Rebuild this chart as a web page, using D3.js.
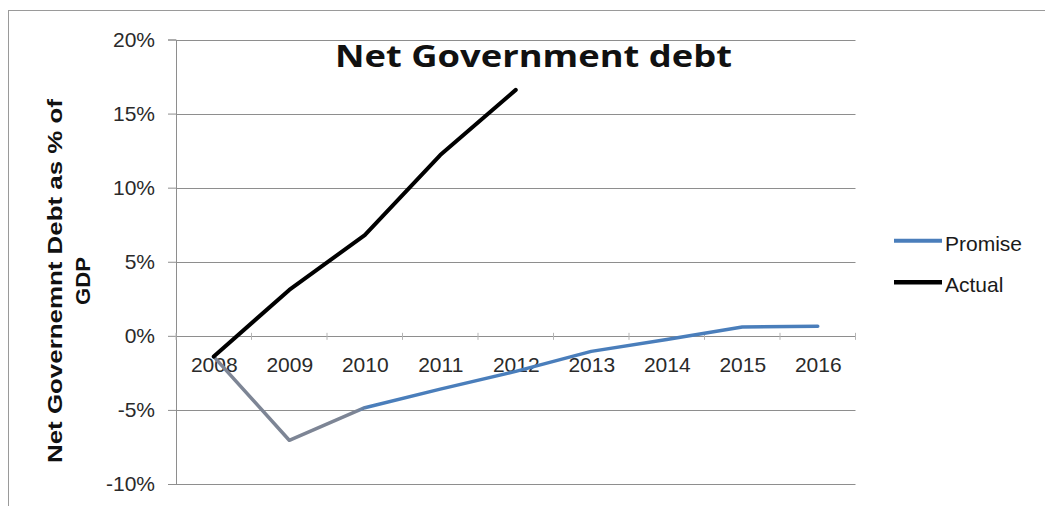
<!DOCTYPE html>
<html>
<head>
<meta charset="utf-8">
<script src="https://cdn.jsdelivr.net/npm/d3@7"></script>
<style>
  html, body { margin: 0; padding: 0; background: #fff; }
  svg { display: block; }
</style>
</head>
<body>
<svg id="chart" width="1045" height="506"></svg>
<script>
// ---- data ----
const years = ["2008", "2009", "2010", "2011", "2012", "2013", "2014", "2015", "2016"];
const promise = [-1.4, -7.05, -4.85, -3.6, -2.4, -1.05, -0.25, 0.6, 0.65];
const actual = [-1.4, 3.1, 6.8, 12.2, 16.6, null, null, null, null];
const yTicks = [-10, -5, 0, 5, 10, 15, 20];
const seriesNames = ["Promise", "Actual"];
const titleText = "Net Government debt";
const yLabelLines = ["Net Governemnt Debt as % of", "GDP"];

(function () {
// ---- layout ----
const svg = d3.select("#chart");
const plotL = 176, plotR = 855.5, plotT = 39.5, plotB = 484;
const gridColor = "#8e8e8e";
const blue = "#4a7ebb";
const grayBlue = "#7d8595";

const x = d3.scalePoint().domain(years).range([plotL, plotR]).padding(0.5);
const y = d3.scaleLinear().domain([-10, 20]).range([plotB, plotT]);

// outer border
svg.append("rect")
  .attr("x", 8.5).attr("y", 10.5)
  .attr("width", 1040).attr("height", 510)
  .attr("fill", "none").attr("stroke", "#9a9a9a").attr("stroke-width", 1);

// gridlines
svg.append("g").selectAll("line").data(yTicks).join("line")
  .attr("x1", plotL).attr("x2", plotR)
  .attr("y1", d => Math.round(y(d)) + 0.5).attr("y2", d => Math.round(y(d)) + 0.5)
  .attr("stroke", gridColor).attr("stroke-width", 1);

// y axis
const yAxis = svg.append("g")
  .attr("transform", `translate(${plotL},0)`)
  .call(d3.axisLeft(y).tickValues(yTicks).tickSize(8).tickPadding(13).tickFormat(d => d + "%"));
yAxis.select(".domain").attr("stroke", gridColor);
yAxis.selectAll(".tick line").attr("stroke", gridColor);
yAxis.selectAll(".tick text")
  .attr("font-family", "'Liberation Sans', Arial, sans-serif")
  .attr("font-size", 21).attr("fill", "#2a2a2a");

// x axis at 0
const y0 = y(0);
const xAxis = svg.append("g")
  .attr("transform", `translate(0,${y0})`)
  .call(d3.axisBottom(x).tickSize(0).tickPadding(21));
xAxis.select(".domain").remove();
xAxis.selectAll(".tick text")
  .attr("font-family", "'Liberation Sans', Arial, sans-serif")
  .attr("font-size", 21).attr("fill", "#2a2a2a");

// small category-boundary ticks on the x axis
const step = x.step();
const bounds = d3.range(years.length + 1).map(i => x(years[0]) - step / 2 + i * step);
svg.append("g").selectAll("line").data(bounds).join("line")
  .attr("x1", d => d).attr("x2", d => d)
  .attr("y1", y0 - 3).attr("y2", y0 + 4)
  .attr("stroke", "#b5b5b5").attr("stroke-width", 1);

// gradient for the promise line (greyish at the start)
const defs = svg.append("defs");
const grad = defs.append("linearGradient")
  .attr("id", "promiseGrad").attr("gradientUnits", "userSpaceOnUse")
  .attr("x1", x(years[0])).attr("x2", x(years[years.length - 1]))
  .attr("y1", 0).attr("y2", 0);
const fSplit = (x(years[2]) - 8 - x(years[0])) / (x(years[years.length - 1]) - x(years[0]));
grad.append("stop").attr("offset", 0).attr("stop-color", grayBlue);
grad.append("stop").attr("offset", fSplit).attr("stop-color", grayBlue);
grad.append("stop").attr("offset", fSplit + 0.02).attr("stop-color", blue);
grad.append("stop").attr("offset", 1).attr("stop-color", blue);

const line = d3.line()
  .defined(d => d.v !== null)
  .x(d => x(d.year)).y(d => y(d.v));

svg.append("path")
  .datum(years.map((yr, i) => ({ year: yr, v: promise[i] })))
  .attr("d", line)
  .attr("fill", "none").attr("stroke", "url(#promiseGrad)")
  .attr("stroke-width", 3.5).attr("stroke-linejoin", "round").attr("stroke-linecap", "round");

svg.append("path")
  .datum(years.map((yr, i) => ({ year: yr, v: actual[i] })))
  .attr("d", line)
  .attr("fill", "none").attr("stroke", "#000")
  .attr("stroke-width", 4).attr("stroke-linejoin", "round").attr("stroke-linecap", "round");

// title
svg.append("text")
  .attr("x", 533.5).attr("y", 67)
  .attr("text-anchor", "middle")
  .attr("font-family", "'Open Sans', sans-serif").attr("font-weight", 700)
  .attr("font-size", 31).attr("fill", "#111")
  .attr("textLength", 397).attr("lengthAdjust", "spacingAndGlyphs")
  .text(titleText);

// y label
const yl = svg.append("g").attr("transform", "translate(0,281) rotate(-90)");
yl.append("text")
  .attr("x", 0).attr("y", 62)
  .attr("text-anchor", "middle")
  .attr("font-family", "'Liberation Sans', Arial, sans-serif").attr("font-weight", 700)
  .attr("font-size", 21).attr("fill", "#111")
  .attr("textLength", 364).attr("lengthAdjust", "spacingAndGlyphs")
  .text(yLabelLines[0]);
yl.append("text")
  .attr("x", 0).attr("y", 90)
  .attr("text-anchor", "middle")
  .attr("font-family", "'Liberation Sans', Arial, sans-serif").attr("font-weight", 700)
  .attr("font-size", 21).attr("fill", "#111")
  .attr("textLength", 48).attr("lengthAdjust", "spacingAndGlyphs")
  .text(yLabelLines[1]);

// legend
const legendColors = [blue, "#000"];
const legendY = [240.7, 282.3];
const lg = svg.append("g");
seriesNames.forEach((name, i) => {
  lg.append("line")
    .attr("x1", 894).attr("x2", 942)
    .attr("y1", legendY[i]).attr("y2", legendY[i])
    .attr("stroke", legendColors[i]).attr("stroke-width", i === 0 ? 4 : 4.5);
  lg.append("text")
    .attr("x", 945).attr("y", legendY[i] + 10)
    .attr("font-family", "'Liberation Sans', Arial, sans-serif")
    .attr("font-size", 21).attr("fill", "#1a1a1a")
    .text(name);
});
})();
</script>
</body>
</html>
